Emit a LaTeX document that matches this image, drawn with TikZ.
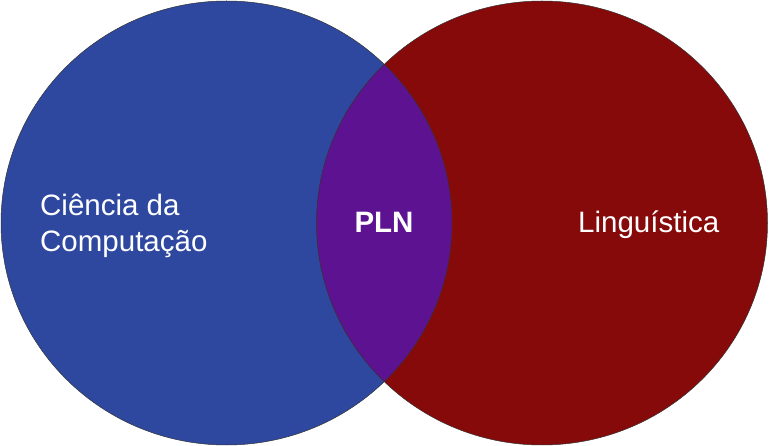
\documentclass[tikz,border=0pt]{standalone}
\usepackage{fontspec}
\setmainfont{Liberation Sans}
\definecolor{cienciablau}{HTML}{2E489F}
\definecolor{linguisticarot}{HTML}{860A0A}
\definecolor{plnlila}{HTML}{5D1292}
\tikzset{
  rotulo/.style={text=white, inner sep=0pt, font=\fontsize{29.5}{36}\selectfont},
  contorno/.style={draw=black!80, line width=0.5pt}
}
\begin{document}
\begin{tikzpicture}[x=1pt,y=-1pt]
  \useasboundingbox (0,0) rectangle (769,446);

  % Mittelpunkte
  \coordinate (CC) at (226.5,223);
  \coordinate (LI) at (542,223);

  % Kreise
  \fill[cienciablau] (CC) ellipse [x radius=225.5pt, y radius=222pt];
  \fill[linguisticarot] (LI) ellipse [x radius=225.5pt, y radius=222pt];

  % Schnittmenge
  \begin{scope}
    \clip (CC) ellipse [x radius=225.5pt, y radius=222pt];
    \fill[plnlila] (LI) ellipse [x radius=225.5pt, y radius=222pt];
  \end{scope}

  % Umrisse
  \draw[contorno] (CC) ellipse [x radius=225.5pt, y radius=222pt];
  \draw[contorno] (LI) ellipse [x radius=225.5pt, y radius=222pt];

  % Beschriftungen
  \node[rotulo, anchor=west, align=left] (cc) at (40,226) {Ciência da\\Computação};
  \node[rotulo, anchor=base] (pln) at (384,233) {\bfseries PLN};
  \node[rotulo, anchor=base west] (li) at (578,233) {Linguística};
\end{tikzpicture}
\end{document}
